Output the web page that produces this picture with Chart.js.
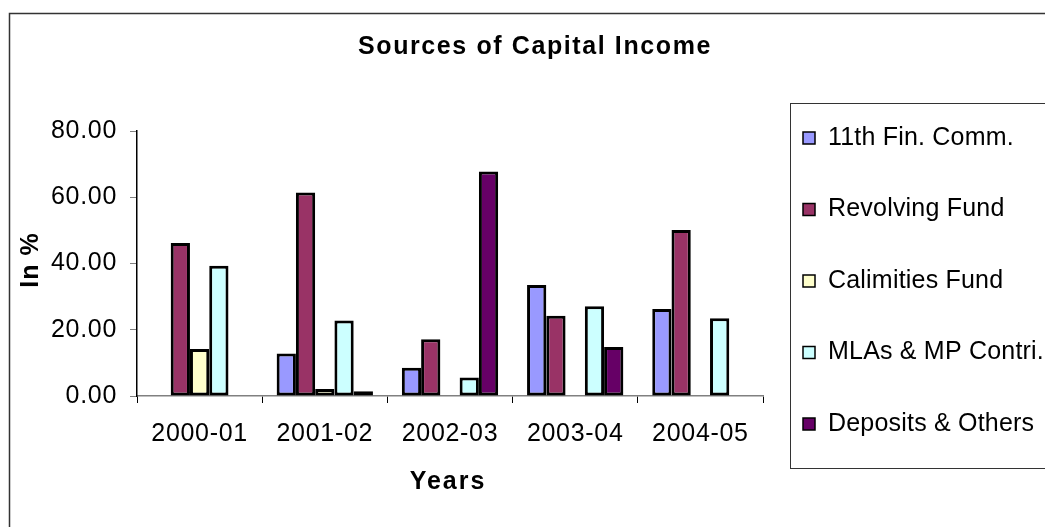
<!DOCTYPE html>
<html><head><meta charset="utf-8">
<script src="https://cdn.jsdelivr.net/npm/chart.js@4"></script>
<style>html,body{margin:0;padding:0;background:#fff}#wrap{width:1045px;height:527px;position:relative}</style>
</head><body><div id="wrap"><canvas id="c"></canvas></div>
<script>
const categories = ['2000-01', '2001-02', '2002-03', '2003-04', '2004-05'];
const seriesNames = ['11th Fin. Comm.', 'Revolving Fund', 'Calimities Fund', 'MLAs & MP Contri.', 'Deposits & Others'];
const fin11 = [null, 12.8, 8.5, 33.5, 26.3];
const revolving = [46.2, 61.4, 17.1, 24.2, 50.1];
const calamities = [14.2, 2.1, null, null, null];
const mlas = [39.3, 22.8, 5.6, 27.1, 23.5];
const deposits = [null, 1.4, 67.8, 14.8, null];
const colors = ['#9999FF', '#993366', '#FFFFCC', '#CCFFFF', '#660066'];
const yTicks = [0, 20, 40, 60, 80];
const chartTitle = 'Sources of Capital Income';
const xTitle = 'Years';
const yTitle = 'In %';

const FONT = '"Liberation Sans", Arial, sans-serif';
const series = [fin11, revolving, calamities, mlas, deposits];

const deco = {
  id: 'deco',
  beforeDraw(chart) {
    const ctx = chart.ctx;
    ctx.fillStyle = '#fff';
    ctx.fillRect(0, 0, chart.width, chart.height);
    ctx.save();
    ctx.strokeStyle = '#333';
    ctx.lineWidth = 1.5;
    ctx.beginPath();
    ctx.moveTo(9.5, chart.height + 2);
    ctx.lineTo(9.5, 13.5);
    ctx.lineTo(chart.width + 2, 13.5);
    ctx.stroke();
    ctx.restore();
    ctx.letterSpacing = '0.7px';
  },
  afterDraw(chart) {
    const ctx = chart.ctx;
    ctx.save();
    ctx.fillStyle = '#000';
    ctx.textAlign = 'center';
    ctx.textBaseline = 'middle';
    ctx.font = 'bold 25px ' + FONT;
    ctx.letterSpacing = '1.6px';
    ctx.fillText(chartTitle, 535, 47);
    ctx.letterSpacing = '2px';
    ctx.fillText(xTitle, 448, 482);
    ctx.save();
    ctx.translate(31, 260);
    ctx.rotate(-Math.PI / 2);
    ctx.letterSpacing = '1px';
    ctx.fillText(yTitle, 0, 0);
    ctx.restore();
    // legend box
    ctx.strokeStyle = '#333';
    ctx.lineWidth = 1;
    ctx.strokeRect(790.5, 103.5, 300, 365);
    ctx.font = '25px ' + FONT;
    ctx.letterSpacing = '0.2px';
    ctx.textAlign = 'left';
    chart.data.datasets.forEach((ds, i) => {
      const cy = 138 + i * 71.5;
      ctx.fillStyle = ds.backgroundColor;
      ctx.fillRect(803, cy - 6, 12, 12);
      ctx.strokeStyle = '#000';
      ctx.lineWidth = 1.5;
      ctx.strokeRect(803, cy - 6, 12, 12);
      ctx.fillStyle = '#000';
      ctx.fillText(ds.label, 828, cy);
    });
    ctx.restore();
  }
};

new Chart(document.getElementById('c'), {
  type: 'bar',
  data: {
    labels: categories,
    datasets: series.map((d, i) => ({
      label: seriesNames[i],
      data: d,
      backgroundColor: colors[i],
      borderColor: '#000',
      borderWidth: 3,
      borderSkipped: false,
      categoryPercentage: 5 / 6.5,
      barPercentage: 1
    }))
  },
  options: {
    responsive: true,
    maintainAspectRatio: false,
    animation: false,
    layout: { padding: { left: 0, right: 282, top: 131, bottom: 0 } },
    plugins: { legend: { display: false }, title: { display: false }, tooltip: { enabled: false } },
    scales: {
      x: {
        afterFit(s) { s.height = 131; },
        grid: { offset: true, drawOnChartArea: false, drawTicks: true, tickLength: 7, color: '#000' },
        border: { color: '#808080', width: 1.5 },
        ticks: { color: '#000', font: { family: FONT, size: 25 }, padding: 16, maxRotation: 0 }
      },
      y: {
        min: 0, max: 80,
        afterFit(s) { s.width = 137; },
        afterBuildTicks(s) { s.ticks = yTicks.map(v => ({ value: v })); },
        grid: { drawOnChartArea: false, drawTicks: true, tickLength: 7, color: '#808080' },
        border: { color: '#000', width: 1.5 },
        ticks: { color: '#000', font: { family: FONT, size: 25 }, padding: 13, callback: v => Number(v).toFixed(2) }
      }
    }
  },
  plugins: [deco]
});
</script>
</body></html>
